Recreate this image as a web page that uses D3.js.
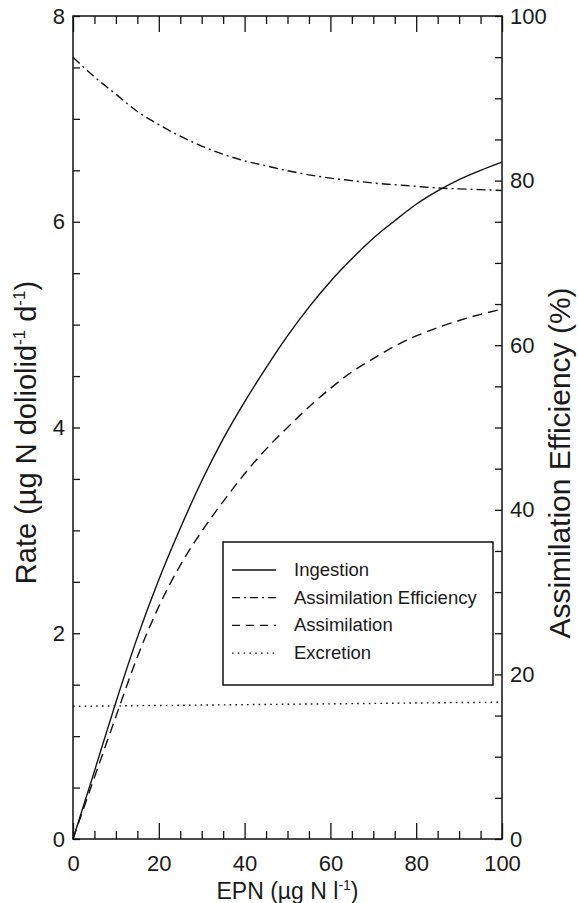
<!DOCTYPE html>
<html>
<head>
<meta charset="utf-8">
<script src="https://cdn.jsdelivr.net/npm/d3@7"></script>
<style>
  body { margin: 0; background: #fff; }
  svg { display: block; font-family: "Liberation Sans", Arial, Helvetica, sans-serif; }
  text { fill: #1a1a1a; }
</style>
</head>
<body>
<div id="chart"></div>
<script>
// EPN values (x) every 5 units
const epn = [0, 5, 10, 15, 20, 25, 30, 35, 40, 45, 50, 55, 60, 65, 70, 75, 80, 85, 90, 95, 100];
const ingestion = [0, 0.66, 1.33, 1.96, 2.52, 3.02, 3.48, 3.89, 4.25, 4.58, 4.89, 5.17, 5.42, 5.64, 5.84, 6.01, 6.17, 6.30, 6.41, 6.50, 6.58];
const assimilation = [0, 0.60, 1.19, 1.77, 2.26, 2.66, 2.99, 3.28, 3.55, 3.79, 4.00, 4.20, 4.38, 4.54, 4.67, 4.79, 4.89, 4.97, 5.04, 5.10, 5.15];
// assimilation efficiency in %, right axis
const efficiency = [95.0, 92.6, 90.5, 88.4, 86.8, 85.4, 84.2, 83.2, 82.4, 81.8, 81.2, 80.7, 80.3, 80.0, 79.7, 79.5, 79.3, 79.1, 79.0, 78.9, 78.8];
// excretion is an almost flat line, read at both ends
const excretionEpn = [0, 100];
const excretion = [1.29, 1.33];

const legendNames = ["Ingestion", "Assimilation Efficiency", "Assimilation", "Excretion"];
const dashes = {
  "Ingestion": null,
  "Assimilation Efficiency": "9,4,2,4",
  "Assimilation": "10,6",
  "Excretion": "1.6,4.2"
};

const width = 578, height = 903;
const margin = { top: 16, right: 76, bottom: 64, left: 73 };

const svg = d3.select("#chart").append("svg")
  .attr("width", width)
  .attr("height", height);

const x = d3.scaleLinear().domain([0, 100]).range([margin.left, width - margin.right]);
const yRate = d3.scaleLinear().domain([0, 8]).range([height - margin.bottom, margin.top]);
const yEff = d3.scaleLinear().domain([0, 100]).range([height - margin.bottom, margin.top]);

drawAxes();
drawSeries();
drawLegend();

function drawAxes() {
  const bottom = height - margin.bottom;
  const xMajor = [0, 20, 40, 60, 80, 100];
  const xMinor = d3.range(0, 101, 5).filter(d => d % 20 !== 0);

  // bottom axis, ticks pointing inward
  svg.append("g")
    .attr("transform", `translate(0,${bottom})`)
    .call(d3.axisBottom(x).tickValues(xMajor).tickSize(-16).tickPadding(16))
    .call(g => g.select(".domain").remove());
  svg.append("g")
    .attr("transform", `translate(0,${bottom})`)
    .call(d3.axisBottom(x).tickValues(xMinor).tickSize(-8).tickFormat(""))
    .call(g => g.select(".domain").remove());

  // top axis mirrors the bottom one
  svg.append("g")
    .attr("transform", `translate(0,${margin.top})`)
    .call(d3.axisTop(x).tickValues(xMajor).tickSize(-16).tickFormat(""))
    .call(g => g.select(".domain").remove());
  svg.append("g")
    .attr("transform", `translate(0,${margin.top})`)
    .call(d3.axisTop(x).tickValues(xMinor).tickSize(-8).tickFormat(""))
    .call(g => g.select(".domain").remove());

  // left axis, rate
  svg.append("g")
    .attr("transform", `translate(${margin.left},0)`)
    .call(d3.axisLeft(yRate).tickValues(d3.range(0, 8.01, 0.5)).tickSize(-7).tickPadding(8)
      .tickFormat(d => d % 2 === 0 ? d : ""))
    .call(g => g.select(".domain").remove());

  // right axis, efficiency
  svg.append("g")
    .attr("transform", `translate(${width - margin.right},0)`)
    .call(d3.axisRight(yEff).tickValues(d3.range(0, 101, 5)).tickSize(-7).tickPadding(8)
      .tickFormat(d => d % 20 === 0 ? d : ""))
    .call(g => g.select(".domain").remove());

  svg.selectAll(".tick line").attr("stroke", "#111").attr("stroke-width", 1.3);
  svg.selectAll(".tick text").attr("font-size", 22).attr("fill", "#1a1a1a")
    .attr("font-family", "Liberation Sans, Arial, sans-serif");

  // frame
  svg.append("rect")
    .attr("x", margin.left)
    .attr("y", margin.top)
    .attr("width", width - margin.left - margin.right)
    .attr("height", bottom - margin.top)
    .attr("fill", "none")
    .attr("stroke", "#111")
    .attr("stroke-width", 1.5);

  // axis titles
  const xt = svg.append("text")
    .attr("x", (x(0) + x(100)) / 2)
    .attr("y", 899)
    .attr("text-anchor", "middle")
    .attr("font-size", 23);
  xt.append("tspan").text("EPN (µg N l");
  xt.append("tspan").attr("font-size", 14).attr("dy", -9).text("-1");
  xt.append("tspan").attr("dy", 9).text(")");

  const yt = svg.append("text")
    .attr("transform", `translate(36,${(margin.top + bottom) / 2 + 5}) rotate(-90)`)
    .attr("text-anchor", "middle")
    .attr("font-size", 29);
  yt.append("tspan").text("Rate (µg N doliolid");
  yt.append("tspan").attr("font-size", 17).attr("dy", -11).text("-1");
  yt.append("tspan").attr("dy", 11).text(" d");
  yt.append("tspan").attr("font-size", 17).attr("dy", -11).text("-1");
  yt.append("tspan").attr("dy", 11).text(")");

  svg.append("text")
    .attr("transform", `translate(570,463) rotate(-90)`)
    .attr("text-anchor", "middle")
    .attr("font-size", 30)
    .text("Assimilation Efficiency (%)");
}

function drawSeries() {
  const rows = epn.map((e, i) => ({
    epn: e,
    ingestion: ingestion[i],
    assimilation: assimilation[i],
    efficiency: efficiency[i]
  }));
  const excretionRows = excretionEpn.map((e, i) => ({ epn: e, excretion: excretion[i] }));

  const lineFor = (key, scale) => d3.line()
    .x(d => x(d.epn))
    .y(d => scale(d[key]))
    .curve(d3.curveMonotoneX);

  const series = [
    { name: "Ingestion", key: "ingestion", scale: yRate, data: rows },
    { name: "Assimilation Efficiency", key: "efficiency", scale: yEff, data: rows },
    { name: "Assimilation", key: "assimilation", scale: yRate, data: rows },
    { name: "Excretion", key: "excretion", scale: yRate, data: excretionRows }
  ];

  series.forEach(s => {
    svg.append("path")
      .datum(s.data)
      .attr("d", lineFor(s.key, s.scale))
      .attr("fill", "none")
      .attr("stroke", "#111")
      .attr("stroke-width", 1.4)
      .attr("stroke-dasharray", dashes[s.name]);
  });
}

function drawLegend() {
  const box = { x: 223, y: 542, w: 270, h: 143 };
  const g = svg.append("g");

  g.append("rect")
    .attr("x", box.x)
    .attr("y", box.y)
    .attr("width", box.w)
    .attr("height", box.h)
    .attr("fill", "#fff")
    .attr("stroke", "#111")
    .attr("stroke-width", 1.5);

  legendNames.forEach((name, i) => {
    const cy = box.y + 28 + i * 27.7;
    g.append("line")
      .attr("x1", box.x + 9)
      .attr("x2", box.x + 53)
      .attr("y1", cy)
      .attr("y2", cy)
      .attr("stroke", "#111")
      .attr("stroke-width", 1.3)
      .attr("stroke-dasharray", name === "Assimilation Efficiency" ? "8,4,2,4"
        : name === "Assimilation" ? "8,6" : dashes[name]);
    g.append("text")
      .attr("x", box.x + 71)
      .attr("y", cy + 6)
      .attr("font-size", 18.5)
      .text(name);
  });
}
</script>
</body>
</html>
